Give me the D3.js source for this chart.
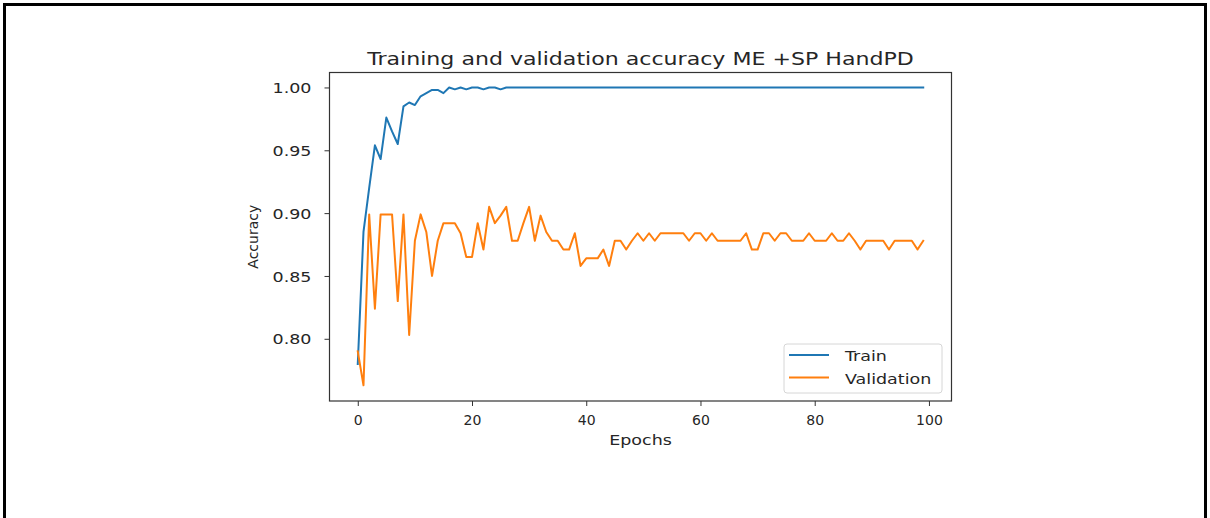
<!DOCTYPE html>
<html>
<head>
<meta charset="utf-8">
<script src="https://cdn.jsdelivr.net/npm/d3@7"></script>
<style>
  html, body { margin: 0; padding: 0; background: #fff; }
  svg { display: block; font-family: "DejaVu Sans", sans-serif; }
</style>
</head>
<body>
<svg id="chart"></svg>
<script>
// data
var trainAcc = [
    0.780, 0.885, 0.920, 0.954, 0.943, 0.976, 0.965, 0.955, 0.985, 0.988,
    0.986, 0.993, 0.9955, 0.998, 0.998, 0.9955, 1.000, 0.9985, 1.000, 0.9985,
    1.000, 1.000, 0.9985, 1.000, 1.000, 0.9985, 1.000, 1.000, 1.000, 1.000,
    1.000, 1.000, 1.000, 1.000, 1.000, 1.000, 1.000, 1.000, 1.000, 1.000,
    1.000, 1.000, 1.000, 1.000, 1.000, 1.000, 1.000, 1.000, 1.000, 1.000,
    1.000, 1.000, 1.000, 1.000, 1.000, 1.000, 1.000, 1.000, 1.000, 1.000,
    1.000, 1.000, 1.000, 1.000, 1.000, 1.000, 1.000, 1.000, 1.000, 1.000,
    1.000, 1.000, 1.000, 1.000, 1.000, 1.000, 1.000, 1.000, 1.000, 1.000,
    1.000, 1.000, 1.000, 1.000, 1.000, 1.000, 1.000, 1.000, 1.000, 1.000,
    1.000, 1.000, 1.000, 1.000, 1.000, 1.000, 1.000, 1.000, 1.000, 1.000
];
var valAcc = [
    0.790, 0.763, 0.899, 0.824, 0.899, 0.899, 0.899, 0.830, 0.899, 0.803,
    0.878, 0.899, 0.885, 0.850, 0.878, 0.892, 0.892, 0.892, 0.884, 0.865,
    0.865, 0.892, 0.871, 0.905, 0.892, 0.898, 0.905, 0.878, 0.878, 0.892,
    0.905, 0.878, 0.898, 0.885, 0.878, 0.878, 0.871, 0.871, 0.884, 0.858,
    0.864, 0.864, 0.864, 0.871, 0.858, 0.878, 0.878, 0.871, 0.878, 0.884,
    0.878, 0.884, 0.878, 0.884, 0.884, 0.884, 0.884, 0.884, 0.878, 0.884,
    0.884, 0.878, 0.884, 0.878, 0.878, 0.878, 0.878, 0.878, 0.884, 0.871,
    0.871, 0.884, 0.884, 0.878, 0.884, 0.884, 0.878, 0.878, 0.878, 0.884,
    0.878, 0.878, 0.878, 0.884, 0.878, 0.878, 0.884, 0.878, 0.871, 0.878,
    0.878, 0.878, 0.878, 0.871, 0.878, 0.878, 0.878, 0.878, 0.871, 0.878
];
var seriesNames = ["Train", "Validation"];
var seriesColors = ["#1f77b4", "#ff7f0e"];
var xTicks = [0, 20, 40, 60, 80, 100];
var yTicks = [0.80, 0.85, 0.90, 0.95, 1.00];

var width = 1210,
    height = 518;
var plotLeft = 329.5, plotRight = 951.5, plotTop = 72.5, plotBottom = 401;
var stretch = 1.25; // the picture is wider than tall, text too

var svg = d3.select("#chart")
    .attr("width", width)
    .attr("height", height);

// outer frame
svg.append("rect")
    .attr("x", 4.5)
    .attr("y", 4.5)
    .attr("width", 1201)
    .attr("height", 620)
    .attr("fill", "none")
    .attr("stroke", "#000")
    .attr("stroke-width", 3);

var x = d3.scaleLinear().domain([-4.95, 103.95]).range([plotLeft, plotRight]);
var y = d3.scaleLinear().domain([0.7505, 1.0119]).range([plotBottom, plotTop]);

// y axis
var yAxis = svg.append("g")
    .attr("transform", "translate(" + plotLeft + ",0)")
    .call(d3.axisLeft(y).tickValues(yTicks).tickSize(5).tickPadding(0).tickFormat(d3.format(".2f")));
yAxis.select(".domain").remove();
yAxis.selectAll("line").attr("stroke", "#333");
yAxis.selectAll("text")
    .attr("x", -18 / stretch)
    .attr("dy", "0.36em")
    .attr("transform", "scale(" + stretch + ",1)")
    .attr("font-size", "14px")
    .attr("font-family", "DejaVu Sans")
    .attr("fill", "#262626");

// x axis
var xAxis = svg.append("g")
    .attr("transform", "translate(0," + plotBottom + ")")
    .call(d3.axisBottom(x).tickValues(xTicks).tickSize(5).tickPadding(0));
xAxis.select(".domain").remove();
xAxis.selectAll("line").attr("stroke", "#333");
xAxis.selectAll("text")
    .attr("y", 24)
    .attr("dy", 0)
    .attr("font-size", "14px")
    .attr("font-family", "DejaVu Sans")
    .attr("fill", "#262626");

// lines
var line = d3.line()
    .x(function (d, i) { return x(i); })
    .y(function (d) { return y(d); });

[trainAcc, valAcc].forEach(function (vals, k) {
    svg.append("path")
        .datum(vals)
        .attr("d", line)
        .attr("fill", "none")
        .attr("stroke", seriesColors[k])
        .attr("stroke-width", 2)
        .attr("stroke-linejoin", "round")
        .attr("stroke-linecap", "square");
});

// spines
svg.append("rect")
    .attr("x", plotLeft)
    .attr("y", plotTop)
    .attr("width", plotRight - plotLeft)
    .attr("height", plotBottom - plotTop)
    .attr("fill", "none")
    .attr("stroke", "#333")
    .attr("stroke-width", 1.2);

function label(txt, px, py, size, sx, anchor) {
    return svg.append("text")
        .attr("transform", "translate(" + px + "," + py + ") scale(" + sx + ",1)")
        .attr("text-anchor", anchor)
        .attr("font-size", size + "px")
        .attr("fill", "#262626")
        .text(txt);
}

label("Training and validation accuracy ME +SP HandPD", (plotLeft + plotRight) / 2, 65, 17, 1.3, "middle");
label("Epochs", (plotLeft + plotRight) / 2, 445, 14, stretch, "middle");
svg.append("text")
    .attr("transform", "translate(258," + (plotTop + plotBottom) / 2 + ") rotate(-90)")
    .attr("text-anchor", "middle")
    .attr("font-size", "14px")
    .attr("fill", "#262626")
    .text("Accuracy");

// legend
var legend = svg.append("g");
legend.append("rect")
    .attr("x", 784)
    .attr("y", 344)
    .attr("width", 158)
    .attr("height", 49)
    .attr("rx", 3)
    .attr("fill", "#fff")
    .attr("fill-opacity", 0.8)
    .attr("stroke", "#d6d6d6")
    .attr("stroke-width", 1);

seriesNames.forEach(function (name, k) {
    var ly = 355 + k * 22.5;
    legend.append("line")
        .attr("x1", 789)
        .attr("x2", 829)
        .attr("y1", ly)
        .attr("y2", ly)
        .attr("stroke", seriesColors[k])
        .attr("stroke-width", 2);
    legend.append("text")
        .attr("transform", "translate(845," + (ly + 6) + ") scale(" + stretch + ",1)")
        .attr("font-size", "14px")
        .attr("fill", "#262626")
        .text(name);
});
</script>
</body>
</html>
